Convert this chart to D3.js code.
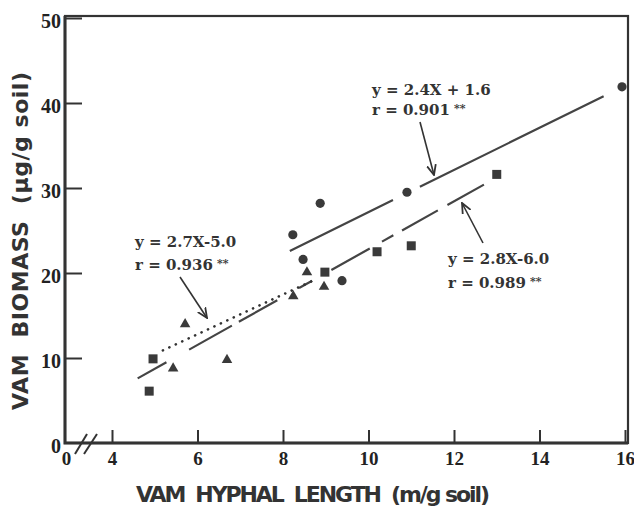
<!DOCTYPE html>
<html lang="en">
<head>
<meta charset="UTF-8">
<title>VAM biomass vs hyphal length</title>
<script src="https://cdn.jsdelivr.net/npm/d3@7"></script>
<style>
  body { margin: 0; background: #fff; }
  svg { display: block; }
  .tick text { font-family: "Liberation Serif", serif; font-weight: bold; fill: #222; }
  .note { font-family: "DejaVu Serif", serif; font-weight: bold; font-size: 15px; fill: #333; }
  .axisTitle { font-family: "DejaVu Sans", sans-serif; font-weight: bold; font-size: 22px; fill: #333; }
</style>
</head>
<body>
<script>
  // values
  let circleX = [8.23, 8.47, 8.87, 9.38, 10.9, 15.93];
  let circleY = [24.5, 21.6, 28.2, 19.1, 29.5, 41.9];
  let squareX = [4.87, 4.96, 8.98, 10.2, 11.0, 13.0];
  let squareY = [6.1, 9.9, 20.1, 22.5, 23.2, 31.6];
  let triangleX = [5.43, 5.71, 6.69, 8.24, 8.56, 8.96];
  let triangleY = [8.9, 14.1, 9.9, 17.4, 20.2, 18.5];

  // regression lines as drawn (end points)
  let circleFitX = [8.16, 15.5], circleFitY = [22.6, 40.8];
  let squareFitX = [4.6, 12.7], squareFitY = [7.6, 30.4];
  let triangleFitX = [5.19, 8.7], triangleFitY = [10.9, 19.1];

  let xTicks = [0, 4, 6, 8, 10, 12, 14, 16];
  let yTicks = [0, 10, 20, 30, 40, 50];

  let circleNote = ["y = 2.4X + 1.6", "r = 0.901"];
  let squareNote = ["y = 2.8X-6.0", "r = 0.989"];
  let triangleNote = ["y = 2.7X-5.0", "r = 0.936"];

  let width = 634, height = 509;
  let frame = { left: 65, right: 628, top: 16, bottom: 443 };

  let svg = d3.select("body").append("svg")
              .attr("width", width)
              .attr("height", height);

  // x axis is broken between 0 and 4
  let xScale = d3.scaleLinear().domain([0, 4, 16]).range([66, 112, 625]);
  let yScale = d3.scaleLinear().domain([0, 50]).range([443, 18]);

  /* frame */
  svg.append("rect")
     .attr("x", frame.left).attr("y", frame.top)
     .attr("width", frame.right - frame.left)
     .attr("height", frame.bottom - frame.top)
     .attr("fill", "none").attr("stroke", "#333").attr("stroke-width", 2.2);
  // left and bottom axes a bit heavier
  svg.append("path")
     .attr("d", `M${frame.left},${frame.top}V${frame.bottom}H${frame.right}`)
     .attr("fill", "none").attr("stroke", "#333").attr("stroke-width", 3);

  /* axes */
  let xAxis = d3.axisBottom(xScale).tickValues(xTicks).tickSize(-13).tickPadding(9);
  let gx = svg.append("g").attr("transform", `translate(0, ${frame.bottom})`).call(xAxis);
  gx.select(".domain").remove();
  gx.selectAll(".tick line").attr("stroke", "#333").attr("stroke-width", 2)
    .filter(d => d === 0).remove();
  gx.selectAll(".tick text").attr("font-size", 19);

  let yAxis = d3.axisLeft(yScale).tickValues(yTicks).tickSize(-17).tickPadding(4);
  let gy = svg.append("g").attr("transform", `translate(${frame.left}, 0)`).call(yAxis);
  gy.select(".domain").remove();
  gy.selectAll(".tick line").attr("stroke", "#333").attr("stroke-width", 2)
    .filter(d => d === 0).remove();
  gy.selectAll(".tick text").attr("font-size", 20).attr("dy", "0.45em");

  /* axis break marks */
  [[75, 87], [84, 97]].forEach(p => {
    svg.append("line")
       .attr("x1", p[0]).attr("y1", 454).attr("x2", p[1]).attr("y2", 434)
       .attr("stroke", "#333").attr("stroke-width", 2);
  });

  /* regression lines */
  let line = d3.line().x(d => xScale(d[0])).y(d => yScale(d[1]));

  svg.append("path")
     .datum(d3.zip(circleFitX, circleFitY))
     .attr("d", line)
     .attr("fill", "none").attr("stroke", "#444").attr("stroke-width", 2.2)
     .attr("stroke-dasharray", "115,30,260");

  svg.append("path")
     .datum(d3.zip(squareFitX, squareFitY))
     .attr("d", line)
     .attr("fill", "none").attr("stroke", "#444").attr("stroke-width", 2.2)
     .attr("stroke-dasharray", "33,26,49,8,44,25,15,22,44,14,13,10,41,11,60");

  svg.append("path")
     .datum(d3.zip(triangleFitX, triangleFitY))
     .attr("d", line)
     .attr("fill", "none").attr("stroke", "#333").attr("stroke-width", 2.6)
     .attr("stroke-linecap", "round")
     .attr("stroke-dasharray", "0.1,7");

  /* points */
  let ink = "#3a3a3a";
  svg.selectAll(".circlePt")
     .data(d3.zip(circleX, circleY))
     .enter().append("circle")
     .attr("class", "circlePt")
     .attr("cx", d => xScale(d[0])).attr("cy", d => yScale(d[1]))
     .attr("r", 4.6)
     .attr("fill", ink);

  svg.selectAll(".squarePt")
     .data(d3.zip(squareX, squareY))
     .enter().append("rect")
     .attr("class", "squarePt")
     .attr("x", d => xScale(d[0]) - 4.5).attr("y", d => yScale(d[1]) - 4.5)
     .attr("width", 9).attr("height", 9)
     .attr("fill", ink);

  let tri = d3.symbol().type(d3.symbolTriangle).size(48);
  svg.selectAll(".trianglePt")
     .data(d3.zip(triangleX, triangleY))
     .enter().append("path")
     .attr("class", "trianglePt")
     .attr("transform", d => `translate(${xScale(d[0])}, ${yScale(d[1]) + 1})`)
     .attr("d", tri)
     .attr("fill", ink);

  /* equations */
  function note(lines, x, y1, y2) {
    svg.append("text").attr("class", "note").attr("x", x).attr("y", y1).text(lines[0]);
    let t = svg.append("text").attr("class", "note").attr("x", x).attr("y", y2).text(lines[1]);
    t.append("tspan").attr("dx", 4).attr("dy", -3).attr("font-size", 11).text("**");
  }
  note(circleNote, 372, 95, 115);
  note(triangleNote, 135, 247, 270);
  note(squareNote, 448, 264, 288);

  /* arrows */
  svg.append("defs").append("marker")
     .attr("id", "head")
     .attr("viewBox", "0 0 10 10").attr("refX", 9).attr("refY", 5)
     .attr("markerWidth", 7).attr("markerHeight", 7)
     .attr("orient", "auto")
     .append("path").attr("d", "M0,1 L9,5 L0,9").attr("fill", "none")
     .attr("stroke", "#333").attr("stroke-width", 1.6);

  [[420, 122, 434, 175], [180, 277, 207, 318], [483, 243, 462, 203]].forEach(a => {
    svg.append("line")
       .attr("x1", a[0]).attr("y1", a[1]).attr("x2", a[2]).attr("y2", a[3])
       .attr("stroke", "#333").attr("stroke-width", 1.6)
       .attr("marker-end", "url(#head)");
  });

  /* axis titles */
  svg.append("text").attr("class", "axisTitle")
     .attr("x", 313).attr("y", 502)
     .attr("text-anchor", "middle")
     .attr("textLength", 354).attr("lengthAdjust", "spacing")
     .attr("xml:space", "preserve")
     .text("VAM  HYPHAL  LENGTH  (m/g soil)");

  svg.append("text").attr("class", "axisTitle")
     .attr("transform", "translate(28, 241) rotate(-90)")
     .attr("text-anchor", "middle")
     .attr("textLength", 338).attr("lengthAdjust", "spacing")
     .attr("xml:space", "preserve")
     .text("VAM  BIOMASS  (μg/g soil)");
</script>
</body>
</html>
